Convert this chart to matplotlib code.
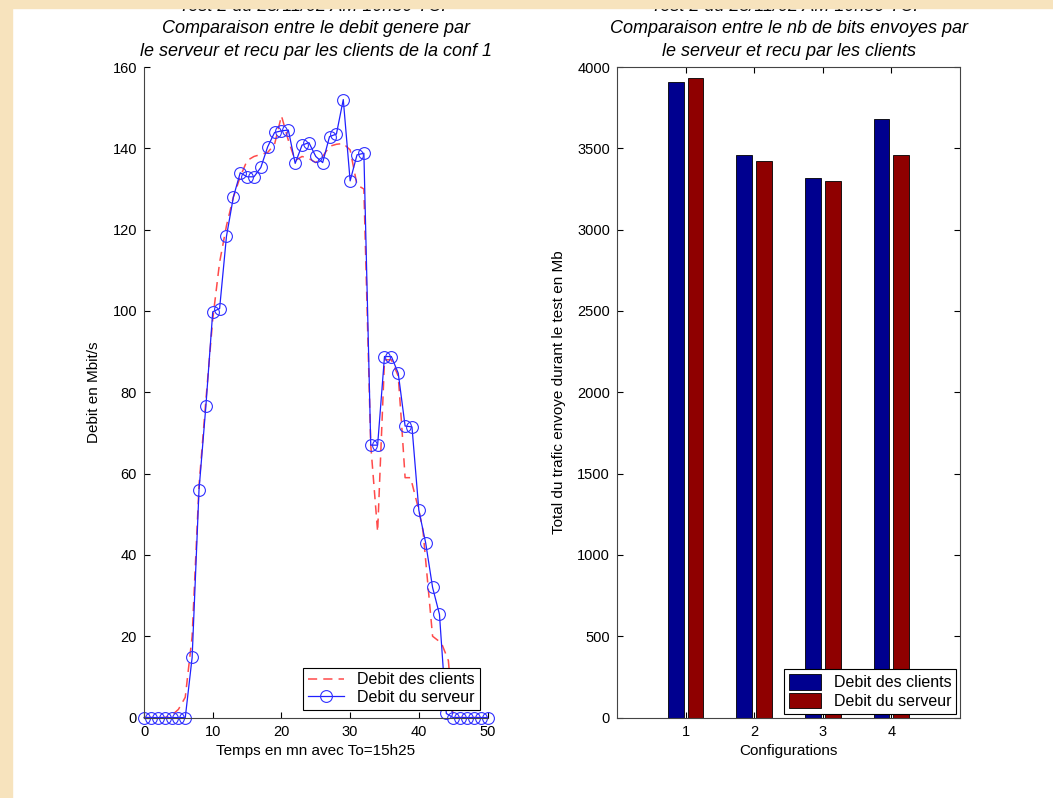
import numpy as np
import matplotlib
matplotlib.use("Agg")
import matplotlib.pyplot as plt
from matplotlib.patches import Rectangle

plt.rcParams['font.family'] = ['Liberation Sans', 'DejaVu Sans']

# debit du serveur, one point per minute
t_serveur = list(range(0, 51))
debit_serveur = [0, 0, 0, 0, 0, 0, 0, 14.8, 56, 76.6, 99.8, 100.6, 118.4, 128, 134, 133,
                 133, 135.3, 140.4, 143.9, 144.3, 144.5, 136.3, 140.8, 141.4, 138, 136.5,
                 142.9, 143.5, 152, 132, 138.4, 138.8, 67, 67, 88.8, 88.8, 84.7, 71.7, 71.5,
                 51, 42.9, 32, 25.4, 1.0, 0, 0, 0, 0, 0, 0]

# debit recu par les clients
t_clients = [0, 1, 2, 3, 4, 5, 6, 7, 8, 9, 10, 11, 12, 13, 14, 15, 16, 17, 18, 19, 20, 21,
             22, 23, 24, 25, 26, 27, 28, 29, 30, 31, 32, 33, 34, 35, 36, 37, 37.5, 38, 38.8,
             40, 40.6, 42, 43.3, 44.3, 45, 46, 47, 48, 49, 50]
debit_clients = [0, 0, 0, 0, 0.5, 2, 5, 20, 57, 78, 98, 112, 121, 128, 133, 137, 138, 138.5,
                 139, 141, 148, 142, 137, 138, 137.5, 136.5, 138, 140.5, 141, 141.2, 139.6,
                 131, 130, 67, 45.7, 88, 88, 84, 72, 59, 59, 51, 46, 20, 18.3, 14, 0, 0, 0, 0,
                 0, 0]

configs = [1, 2, 3, 4]
total_clients = [3906, 3458, 3319, 3681]
total_serveur = [3933, 3421, 3300, 3458]

fig = plt.figure(figsize=(10.53, 7.98), dpi=100)
title_kw = dict(fontsize=13, style='italic', linespacing=1.42, pad=8)
leg_kw = dict(loc='lower right', fontsize=11.5, fancybox=False, edgecolor='black',
              borderpad=0.3, labelspacing=0.15, framealpha=1)

# ---- left: debit vs temps
ax1 = fig.add_axes([0.1368, 0.1008, 0.3262, 0.8152])
ax1.plot(t_clients, debit_clients, color='#ff4a4a', lw=1.1, dashes=(6, 4),
         label='Debit des clients')
ax1.plot(t_serveur, debit_serveur, '-', color='#2020ff', lw=0.9, marker='o', ms=8.5,
         mfc='none', mec='#3030ff', mew=0.8, label='Debit du serveur')
ax1.set_xlim(0, 50)
ax1.set_ylim(0, 160)
ax1.set_xticks(range(0, 51, 10))
ax1.set_yticks(range(0, 161, 20))
ax1.spines['top'].set_visible(False)
ax1.spines['right'].set_visible(False)
ax1.tick_params(direction='in', length=4, labelsize=10.5, pad=5)
ax1.set_xlabel('Temps en mn avec To=15h25', fontsize=11)
ax1.set_ylabel('Debit en Mbit/s', fontsize=11, labelpad=8)
for sp in ax1.spines.values():
    sp.set_color('#444444')
ax1.set_title('Test 2 du 25/11/02 AM 10h50 TCP\nComparaison entre le debit genere par\n'
              'le serveur et recu par les clients de la conf 1', **title_kw)
leg1 = ax1.legend(borderaxespad=0.5, handlelength=2.3, **leg_kw)
leg1.get_frame().set_linewidth(0.8)
for line in ax1.get_lines():
    line.set_clip_on(False)

# ---- right: total trafic par configuration
ax2 = fig.add_axes([0.586, 0.1008, 0.3257, 0.8152])
x = np.array(configs)
w = 0.23
ax2.bar(x - 0.145, total_clients, w, color='#00008f', edgecolor='black', lw=0.6,
        label='Debit des clients')
ax2.bar(x + 0.145, total_serveur, w, color='#8f0000', edgecolor='black', lw=0.6,
        label='Debit du serveur')
ax2.set_xlim(0, 5)
ax2.set_ylim(0, 4000)
ax2.set_xticks(configs)
ax2.set_yticks(range(0, 4001, 500))
ax2.tick_params(direction='in', length=4, labelsize=10.5, pad=5, top=True, right=True)
for sp in ax2.spines.values():
    sp.set_color('#444444')
ax2.set_xlabel('Configurations', fontsize=11)
ax2.set_ylabel('Total du trafic envoye durant le test en Mb', fontsize=11, labelpad=8)
ax2.set_title('Test 2 du 25/11/02 AM 10h50 TCP\nComparaison entre le nb de bits envoyes par\n'
              'le serveur et recu par les clients', **title_kw)
leg2 = ax2.legend(borderaxespad=0.25, handlelength=2.0, handleheight=1.1, **leg_kw)
leg2.get_frame().set_linewidth(0.8)

# beige frame on the top and left edges of the scan
beige = '#f7e3bd'
fig.patches.append(Rectangle((0, 1 - 8 / 798), 1, 8 / 798, transform=fig.transFigure,
                             color=beige, zorder=10))
fig.patches.append(Rectangle((0, 0), 12 / 1053, 1, transform=fig.transFigure,
                             color=beige, zorder=10))

fig.savefig('out.png', dpi=100)
